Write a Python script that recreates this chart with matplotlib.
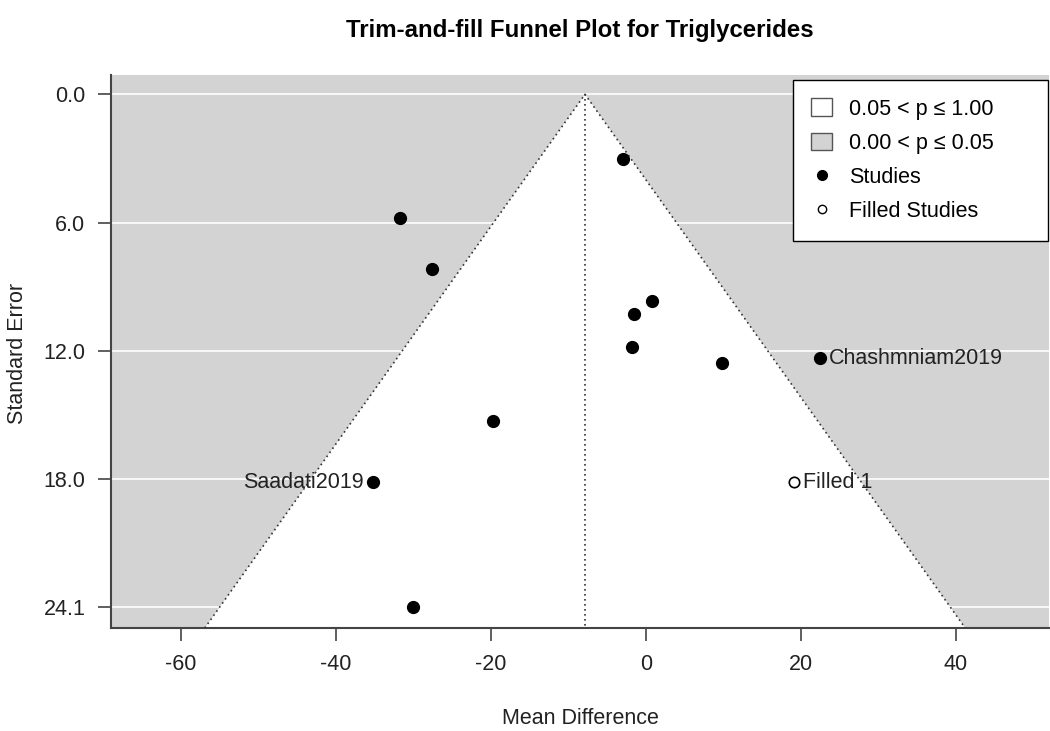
import numpy as np
import matplotlib
matplotlib.use("Agg")
import matplotlib.pyplot as plt
from matplotlib.lines import Line2D
from matplotlib.patches import Patch

plt.rcParams["font.family"] = ["Liberation Sans", "DejaVu Sans"]
plt.rcParams["axes.unicode_minus"] = False

# study estimates (mean difference) and standard errors
md = [-3.0, -31.7, -27.6, 0.8, -1.5, -1.8, 9.8, 22.45, -19.7, -35.2, -30.1]
se = [3.04, 5.81, 8.2, 9.7, 10.3, 11.86, 12.6, 12.37, 15.33, 18.2, 24.06]
labels = ["", "", "", "", "", "", "", "Chashmniam2019", "", "Saadati2019", ""]
filled_md = [19.1]
filled_se = [18.2]
filled_labels = ["Filled 1"]
estimate = -7.87
se_max = 24.06
xticks = [-60, -40, -20, 0, 20, 40]

gray = "#D3D3D3"
txt = "#222222"
fs = 15.5
fig = plt.figure(figsize=(10.5, 7.31), dpi=100)
W, H = 1050, 731
ax = fig.add_axes([111 / W, 1 - 628 / H, (1049 - 111) / W, (628 - 75) / H])
ax.set_xlim(-69.03, 52.0)
ax.set_ylim(25.03, -0.906)
ax.set_facecolor(gray)

yt = [se_max * i / 4 for i in range(5)]
for y in yt:
    ax.axhline(y, color="white", lw=1.2, zorder=1)

# funnel region (p > .05) extended to bottom of the axes
ybot = 25.03
z = 1.959964
tri_x = [estimate - z * ybot, estimate, estimate + z * ybot]
tri_y = [ybot, 0, ybot]
ax.fill(tri_x, tri_y, color="white", zorder=2, lw=0)
ax.plot(tri_x, tri_y, color="#333333", ls=(0, (1, 2)), lw=1.2, zorder=3)
ax.plot([estimate, estimate], [0, ybot], color="#333333", ls=(0, (1, 2)), lw=1.2, zorder=3)

ax.plot(md, se, "o", color="black", ms=8.5, zorder=5, ls="none")
ax.plot(filled_md, filled_se, "o", mfc="white", mec="black", mew=1.2, ms=7.5, zorder=5, ls="none")

for x, y, lab in zip(md, se, labels):
    if not lab:
        continue
    if x > estimate:
        ax.text(x + 1.2, y, lab, ha="left", va="center", fontsize=fs, color=txt, zorder=6)
    else:
        ax.text(x - 1.2, y, lab, ha="right", va="center", fontsize=fs, color=txt, zorder=6)
for x, y, lab in zip(filled_md, filled_se, filled_labels):
    ax.text(x + 1.2, y, lab, ha="left", va="center", fontsize=fs, color=txt, zorder=6)

ax.set_yticks(yt)
ax.set_yticklabels([f"{v:.1f}" for v in yt])
ax.set_xticks(xticks)
ax.tick_params(labelsize=fs, length=9.5, width=1.2, color="#444444", labelcolor=txt, pad=9)
for s in ["top", "right"]:
    ax.spines[s].set_visible(False)
for s in ["left", "bottom"]:
    ax.spines[s].set_color("#444444")
    ax.spines[s].set_linewidth(1.5)

fig.text(580 / W, 1 - 30 / H, "Trim-and-fill Funnel Plot for Triglycerides",
         ha="center", va="center", fontsize=17.3, fontweight="bold")
fig.text(580 / W, 1 - 718 / H, "Mean Difference", ha="center", va="center", fontsize=fs, color=txt)
fig.text(18 / W, 1 - 353 / H, "Standard Error", ha="center", va="center", rotation=90, fontsize=fs, color=txt)

handles = [
    Patch(facecolor="white", edgecolor="#555555", label="0.05 < p \u2264 1.00"),
    Patch(facecolor=gray, edgecolor="#555555", label="0.00 < p \u2264 0.05"),
    Line2D([], [], marker="o", color="black", ls="none", ms=7, label="Studies"),
    Line2D([], [], marker="o", mfc="white", mec="black", ls="none", ms=6, label="Filled Studies"),
]
leg = ax.legend(handles=handles, loc="upper left",
                bbox_to_anchor=(793 / W, 1 - 80 / H, (1048 - 793) / W, 0),
                bbox_transform=fig.transFigure, mode="expand", fontsize=fs,
                fancybox=False, framealpha=1, edgecolor="black", borderpad=0.85,
                labelspacing=0.6, handlelength=0.95, handleheight=0.9,
                handletextpad=0.8, borderaxespad=0)
leg.get_frame().set_linewidth(1.0)
leg.set_zorder(10)

fig.savefig("out.png", dpi=100)
